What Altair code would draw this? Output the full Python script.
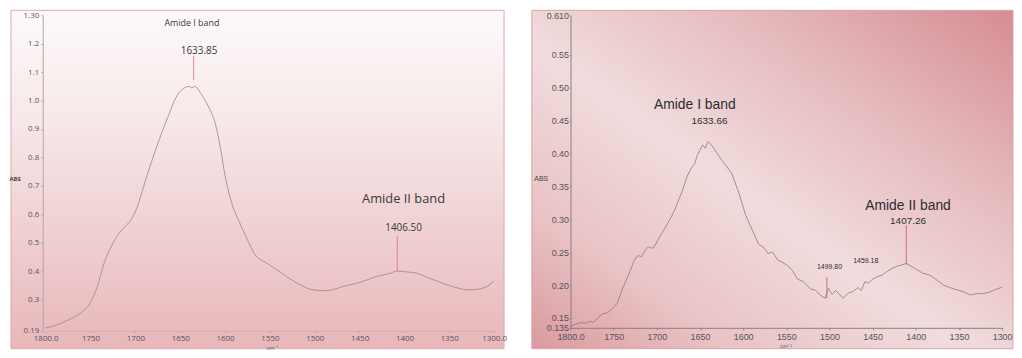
import altair as alt
import pandas as pd

# ---------------- Left spectrum ----------------
left_wn = [1800, 1790, 1775, 1760, 1750, 1742, 1735, 1728, 1720, 1712, 1705, 1698, 1692, 1687, 1676,
           1665, 1653, 1645, 1640, 1637, 1634, 1626, 1618, 1611, 1605, 1600, 1593, 1583, 1575,
           1567, 1553, 1540, 1532, 1515, 1502, 1488, 1466, 1450, 1430, 1415, 1409, 1400, 1387,
           1372, 1358, 1340, 1328, 1315, 1307, 1300]
left_abs = [0.20, 0.208, 0.228, 0.255, 0.29, 0.35, 0.427, 0.48, 0.525, 0.555, 0.58, 0.625, 0.685, 0.736, 0.84,
            0.932, 1.02, 1.045, 1.05, 1.045, 1.05, 1.02, 0.975, 0.92, 0.83, 0.736, 0.644, 0.565, 0.51,
            0.46, 0.427, 0.40, 0.382, 0.35, 0.334, 0.331, 0.348, 0.36, 0.382, 0.393, 0.40, 0.398, 0.393,
            0.375, 0.358, 0.34, 0.334, 0.338, 0.348, 0.365]

# ---------------- Right spectrum ----------------
right_wn = [1800, 1795, 1789, 1783, 1777, 1774, 1768, 1763, 1757, 1751, 1746, 1740, 1733, 1726,
            1722, 1718, 1714, 1710, 1706, 1703, 1699, 1695, 1690, 1684, 1680, 1676, 1670, 1665,
            1660, 1656, 1653, 1650, 1647, 1644, 1641, 1639, 1635, 1631, 1627, 1620, 1613, 1605,
            1597, 1590, 1582, 1577, 1571, 1566, 1560, 1555, 1548, 1543, 1537, 1530, 1522, 1516,
            1511, 1505, 1501, 1497, 1493, 1488, 1484, 1478, 1473, 1467, 1463, 1459, 1455, 1450,
            1444, 1439, 1435, 1428, 1421, 1415, 1411, 1406, 1398, 1392, 1386, 1382, 1375, 1368,
            1360, 1353, 1345, 1337, 1330, 1323, 1315, 1308, 1300]
right_abs = [0.137, 0.140, 0.143, 0.142, 0.145, 0.143, 0.150, 0.156, 0.158, 0.165, 0.172, 0.194, 0.215, 0.238,
             0.245, 0.243, 0.252, 0.258, 0.256, 0.258, 0.268, 0.277, 0.288, 0.302, 0.312, 0.325, 0.345, 0.365,
             0.378, 0.385, 0.398, 0.405, 0.413, 0.408, 0.418, 0.416, 0.410, 0.402, 0.394, 0.382, 0.369, 0.340,
             0.306, 0.285, 0.262, 0.258, 0.248, 0.250, 0.238, 0.235, 0.229, 0.222, 0.209, 0.205, 0.194, 0.192,
             0.185, 0.180, 0.195, 0.186, 0.192, 0.185, 0.180, 0.188, 0.190, 0.196, 0.192, 0.205, 0.203, 0.209,
             0.213, 0.215, 0.219, 0.225, 0.229, 0.231, 0.233, 0.229, 0.223, 0.218, 0.216, 0.214, 0.207, 0.200,
             0.196, 0.193, 0.190, 0.185, 0.187, 0.187, 0.189, 0.193, 0.197]

# ---------------- Annotations ----------------
left_text = ["Amide I band", "1633.85", "Amide II band", "1406.50"]
left_text_wn = [1637, 1629, 1401, 1401]
left_text_abs = [1.272, 1.176, 0.654, 0.551]
left_text_size = [9, 10, 13, 10]
left_mark_wn = [1635, 1408]
left_mark_top = [1.156, 0.523]
left_mark_bot = [1.073, 0.40]

right_text = ["Amide I band", "1633.66", "Amide II band", "1407.26", "1499.80", "1459.18"]
right_text_wn = [1656, 1639, 1409, 1409, 1500, 1458]
right_text_abs = [0.473, 0.449, 0.320, 0.298, 0.227, 0.237]
right_text_size = [14, 10, 14, 10, 7, 7]
right_mark_wn = [1411, 1503]
right_mark_top = [0.291, 0.212]
right_mark_bot = [0.231, 0.180]

x_ticks = [1800, 1750, 1700, 1650, 1600, 1550, 1500, 1450, 1400, 1350, 1300]
left_yticks = [0.19, 0.3, 0.4, 0.5, 0.6, 0.7, 0.8, 0.9, 1.0, 1.1, 1.2, 1.3]
right_yticks = [0.135, 0.15, 0.20, 0.25, 0.30, 0.35, 0.40, 0.45, 0.50, 0.55, 0.61]

LW, LH = 452, 318
RW, RH = 435, 315
LFONT = "Open Sans"
RFONT = "Liberation Sans"

one = pd.DataFrame({"a": [0]})
LXS = alt.Scale(domain=[1800, 1300], nice=False, zero=False)
LYS = alt.Scale(domain=[0.19, 1.30], nice=False, zero=False)
RYS = alt.Scale(domain=[0.135, 0.61], nice=False, zero=False)

# ---------- left panel ----------
lx_axis = alt.Axis(values=x_ticks, title="cm⁻¹", titleFontSize=6, titleX=228, titleY=14,
                   titleColor="#666", titleFontWeight="normal", titleFont=LFONT,
                   labelExpr="datum.value == 1800 || datum.value == 1300 ? format(datum.value, '.1f') : datum.value",
                   labelFont=LFONT, labelFontSize=8, labelColor="#555",
                   labelFlush=False, labelOverlap=False, labelPadding=2,
                   domainColor="#c8b0b2", tickColor="#aaa", tickSize=2, grid=False, zindex=2)
ly_axis = alt.Axis(values=left_yticks, title="ABS", titleAngle=0, titleX=-34, titleY=165,
                   titleAlign="left", titleBaseline="middle", titleFontSize=6, titleColor="#444",
                   titleFont=LFONT,
                   labelExpr="datum.value == 1.3 ? '1.30' : datum.value == 0.19 ? '0.19' : format(datum.value, '.1f')",
                   labelFont=LFONT, labelFontSize=8, labelColor="#555",
                   labelFlush=False, labelOverlap=False, labelPadding=2, offset=3,
                   domainColor="#b9a3a5", tickColor="#aaa", tickSize=2, grid=False, zindex=2)
lx = alt.X("wn:Q", scale=LXS, axis=lx_axis)
ly = alt.Y("abs:Q", scale=LYS, axis=ly_axis)

left_bg = alt.Chart(one).mark_rect(
    color=alt.LinearGradient(gradient="linear",
                             stops=[alt.GradientStop(color="#fdfafa", offset=0),
                                    alt.GradientStop(color="#f6e6e7", offset=0.35),
                                    alt.GradientStop(color="#e8b7ba", offset=1)],
                             x1=0, x2=0, y1=0, y2=1),
    stroke="#dfa9ad", strokeWidth=1
).encode(x=alt.value(-35), x2=alt.value(LW + 10), y=alt.value(-5), y2=alt.value(LH + 18))

ldf = pd.DataFrame({"wn": left_wn, "abs": left_abs})
left_line = alt.Chart(ldf).mark_line(color="#9c8486", strokeWidth=0.8, interpolate="monotone").encode(x=lx, y=ly)

lmk = pd.DataFrame({"wn": left_mark_wn, "abs": left_mark_top, "abs2": left_mark_bot})
left_marks = alt.Chart(lmk).mark_rule(color="#d4707c", strokeWidth=0.8).encode(
    x=lx, y=ly, y2="abs2:Q")

ltx = pd.DataFrame({"t": left_text, "wn": left_text_wn, "abs": left_text_abs, "s": left_text_size})
left_text_layer = alt.Chart(ltx).mark_text(font=LFONT, color="#3a3a3a",
                                           baseline="middle", align="center").encode(
    x=lx, y=ly, text="t:N", size=alt.Size("s:Q", scale=None, legend=None))

left = alt.layer(left_bg, left_line, left_marks, left_text_layer).properties(width=LW, height=LH)

# ---------- right panel ----------
rx_axis = alt.Axis(values=x_ticks, title="cm⁻¹", titleFontSize=6, titleX=217, titleY=15,
                   titleColor="#666", titleFontWeight="normal", titleFont=RFONT,
                   labelExpr="datum.value == 1800 ? '1800.0' : datum.value",
                   labelFont=RFONT, labelFontSize=9, labelColor="#555",
                   labelFlush=False, labelOverlap=False, labelPadding=3,
                   domainColor="#8a7f80", tickColor="#8a7f80", tickSize=2, grid=False, zindex=2)
ry_axis = alt.Axis(values=right_yticks, title="ABS", titleAngle=0, titleX=-37, titleY=164,
                   titleAlign="left", titleBaseline="middle", titleFontSize=7, titleColor="#444",
                   titleFontWeight="normal", titleFont=RFONT,
                   labelExpr="datum.value == 0.135 ? '0.135' : datum.value == 0.61 ? '0.610' : format(datum.value, '.2f')",
                   labelFont=RFONT, labelFontSize=9, labelColor="#555",
                   labelFlush=False, labelOverlap=False, labelPadding=1,
                   domainColor="#8a7f80", tickColor="#8a7f80", tickSize=1, grid=False, zindex=2)
rx = alt.X("wn:Q", scale=LXS, axis=rx_axis)
ry = alt.Y("abs:Q", scale=RYS, axis=ry_axis)

right_bg = alt.Chart(one).mark_rect(
    color=alt.LinearGradient(gradient="linear",
                             stops=[alt.GradientStop(color="#d58d93", offset=0),
                                    alt.GradientStop(color="#e6bcbf", offset=0.3),
                                    alt.GradientStop(color="#f1dcdd", offset=0.55),
                                    alt.GradientStop(color="#e9c2c4", offset=0.8),
                                    alt.GradientStop(color="#da999e", offset=1)],
                             x1=1, x2=0, y1=0, y2=1),
    stroke="#dba3a7", strokeWidth=1
).encode(x=alt.value(-39), x2=alt.value(RW + 11), y=alt.value(-5), y2=alt.value(RH + 21))

rdf = pd.DataFrame({"wn": right_wn, "abs": right_abs})
right_line = alt.Chart(rdf).mark_line(color="#8c7b7d", strokeWidth=0.8).encode(x=rx, y=ry)

rmk = pd.DataFrame({"wn": right_mark_wn, "abs": right_mark_top, "abs2": right_mark_bot})
right_marks = alt.Chart(rmk).mark_rule(color="#d0606e", strokeWidth=0.9).encode(
    x=rx, y=ry, y2="abs2:Q")

rtx = pd.DataFrame({"t": right_text, "wn": right_text_wn, "abs": right_text_abs, "s": right_text_size})
right_text_layer = alt.Chart(rtx).mark_text(font=RFONT, color="#2e2e2e",
                                            baseline="middle", align="center").encode(
    x=rx, y=ry, text="t:N", size=alt.Size("s:Q", scale=None, legend=None))

right = alt.layer(right_bg, right_line, right_marks, right_text_layer).properties(width=RW, height=RH)

chart = alt.hconcat(left, right, spacing=24).resolve_scale(x="independent", y="independent").properties(
    padding={"left": 0, "top": 0, "right": 0, "bottom": 0}
).configure_view(stroke=None).configure_axis(labelOverlap=False).configure(background="white")

chart.save("out.html", embed_options={"renderer": "svg", "actions": False})
